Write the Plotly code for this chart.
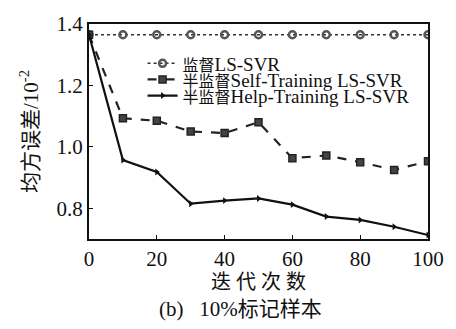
import plotly.graph_objects as go

# Iteration counts and mean squared error (×10^-2) for each method
iterations = [0, 10, 20, 30, 40, 50, 60, 70, 80, 90, 100]
supervised = [1.365] * 11
self_training = [1.365, 1.093, 1.085, 1.050, 1.045, 1.080, 0.963, 0.972, 0.950, 0.925, 0.953]
help_training = [1.365, 0.957, 0.918, 0.815, 0.825, 0.832, 0.812, 0.773, 0.762, 0.740, 0.713]

# Series names: Chinese prefix and Latin method name
name_prefixes = ["监督", "半监督", "半监督"]
name_methods = ["LS-SVR", "Self-Training LS-SVR", "Help-Training LS-SVR"]
x_ticks = [0, 20, 40, 60, 80, 100]
y_ticks = [0.8, 1.0, 1.2, 1.4]

serif = "Liberation Serif, Noto Sans CJK SC, serif"


def legend_name(prefix, method):
    # CJK glyphs are set a little smaller so the stacked rows stay compact
    return f'<span style="font-size:16px">{prefix}</span>{method}'


names = [legend_name(p, m) for p, m in zip(name_prefixes, name_methods)]

fig = go.Figure()
fig.add_trace(go.Scatter(
    x=iterations, y=supervised, name=names[0], mode="lines+markers", legend="legend",
    line=dict(color="#333", width=1.5, dash="dot"),
    marker=dict(symbol="circle-open", size=7, color="#555", line=dict(width=2.5)),
))
fig.add_trace(go.Scatter(
    x=iterations, y=self_training, name=names[1], mode="lines+markers", legend="legend2",
    line=dict(color="#222", width=2.2, dash="dash"),
    marker=dict(symbol="square", size=7, color="#444", line=dict(color="#222", width=1.5)),
))
fig.add_trace(go.Scatter(
    x=iterations, y=help_training, name=names[2], mode="lines+markers", legend="legend3",
    line=dict(color="#111", width=2.2),
    marker=dict(symbol="triangle-right", size=6, color="#111"),
))

axis_common = dict(
    showline=True, linecolor="#111", linewidth=2, mirror=True,
    ticks="inside", ticklen=4, tickcolor="#111", showgrid=False, zeroline=False,
    tickfont=dict(family=serif, size=21, color="#111"),
)


def legend_row(y):
    # one legend per series so that rows can sit tightly stacked
    return dict(
        x=0.158, y=y, xanchor="left", yanchor="top",
        bgcolor="rgba(0,0,0,0)", borderwidth=0,
        font=dict(family=serif, size=19, color="#111"),
        itemwidth=30,
    )


fig.update_layout(
    width=456, height=329,
    margin=dict(l=89, r=19, t=22, b=90),
    paper_bgcolor="white", plot_bgcolor="white",
    showlegend=True,
    legend=legend_row(0.905),
    legend2=legend_row(0.83),
    legend3=legend_row(0.755),
    xaxis=dict(range=[0, 100], tickvals=x_ticks,
               title=dict(text="迭 代 次 数", font=dict(family=serif, size=20, color="#111"), standoff=4),
               **axis_common),
    yaxis=dict(range=[0.70, 1.40], tickvals=y_ticks, tickformat=".1f",
               title=dict(text="均方误差/10<sup>-2</sup>", font=dict(family=serif, size=21, color="#111"), standoff=12),
               **axis_common),
)

fig.add_annotation(
    text="(b)\u00a0\u00a0\u00a010%标记样本", xref="paper", yref="paper", x=0.448, y=-0.327,
    xanchor="center", yanchor="middle", showarrow=False,
    font=dict(family=serif, size=21, color="#111"),
)

fig.write_html("out.html")
